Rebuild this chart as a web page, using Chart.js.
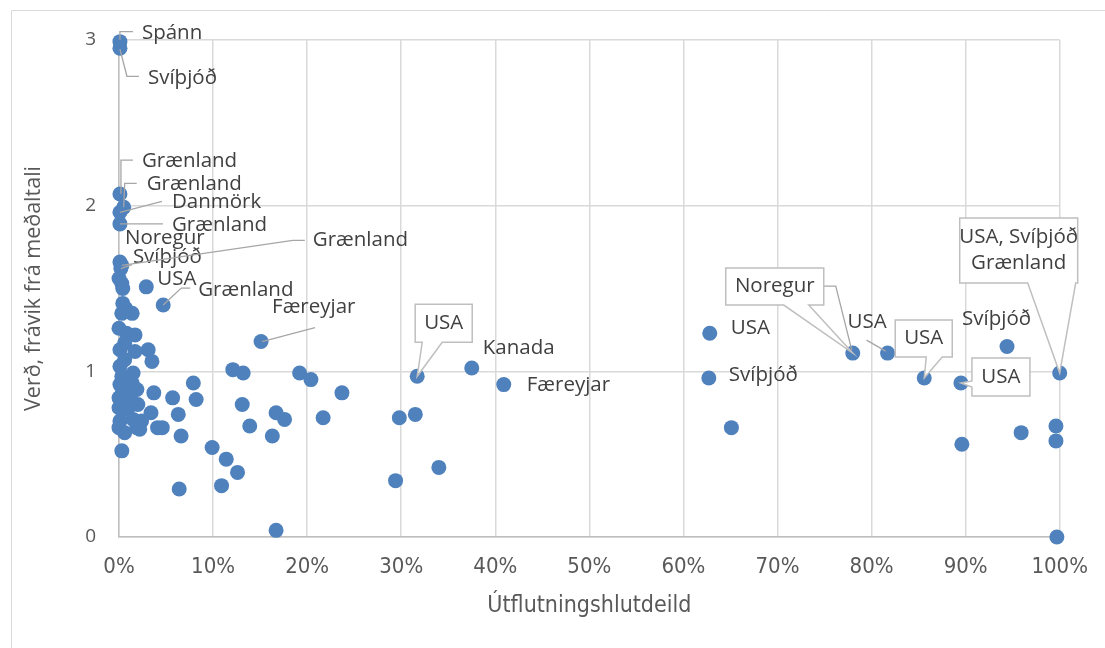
<!DOCTYPE html>
<html>
<head>
<meta charset="utf-8">
<script src="https://cdn.jsdelivr.net/npm/chart.js@4/dist/chart.umd.min.js"></script>
<style>
  body { margin: 0; background: #fff; }
  canvas { display: block; }
</style>
</head>
<body>
<canvas id="scatterChart" width="1105" height="648"></canvas>
<script>
// labelled points: export share (fraction), price deviation from average, country
var labelledShare = [0.001, 0.001, 0.001, 0.005, 0.001, 0.001, 0.001, 0.002, 0.003, 0.029, 0.047, 0.151,
    0.317, 0.375, 0.409, 0.628, 0.627, 0.780, 0.817, 0.856, 0.895, 0.944, 1.0];
var labelledPrice = [2.99, 2.95, 2.07, 1.99, 1.96, 1.89, 1.66, 1.62, 1.64, 1.51, 1.40, 1.18,
    0.97, 1.02, 0.92, 1.23, 0.96, 1.11, 1.11, 0.96, 0.93, 1.15, 0.99];
var labelledNames = ["Spánn", "Svíþjóð", "Grænland", "Grænland", "Danmörk", "Grænland", "Noregur", "Svíþjóð",
    "Grænland", "USA", "Grænland", "Færeyjar", "USA", "Kanada", "Færeyjar", "USA", "Svíþjóð", "Noregur",
    "USA", "USA", "USA", "Svíþjóð", "USA, Svíþjóð\nGrænland"];

// points without a label
var otherShare = [0.031, 0.035, 0.121, 0.132, 0.192, 0.204, 0.079, 0.037, 0.057, 0.082, 0.237, 0.131,
    0.034, 0.063, 0.167, 0.176, 0.217, 0.298, 0.315, 0.139, 0.041, 0.046, 0.066, 0.163, 0.099, 0.114,
    0.126, 0.294, 0.340, 0.064, 0.109, 0.167, 0.003, 0.019, 0.024, 0.651, 0.896, 0.959, 0.996, 0.996,
    0.997, 0.0, 0.003, 0.004, 0.004, 0.007, 0.014, 0.003, 0.0, 0.008, 0.017, 0.006, 0.001, 0.017,
    0.001, 0.015, 0.003, 0.001, 0.014, 0.019, 0.0, 0.010, 0.020, 0.0, 0.001, 0.0, 0.006, 0.006,
    0.012, 0.009, 0.015, 0.004, 0.022];
var otherPrice = [1.13, 1.06, 1.01, 0.99, 0.99, 0.95, 0.93, 0.87, 0.84, 0.83, 0.87, 0.80,
    0.75, 0.74, 0.75, 0.71, 0.72, 0.72, 0.74, 0.67, 0.66, 0.66, 0.61, 0.61, 0.54, 0.47,
    0.39, 0.34, 0.42, 0.29, 0.31, 0.04, 0.52, 0.66, 0.70, 0.66, 0.56, 0.63, 0.67, 0.58,
    0.0, 1.56, 1.53, 1.50, 1.41, 1.38, 1.35, 1.35, 1.26, 1.23, 1.22, 1.17, 1.13, 1.12,
    1.03, 0.99, 0.97, 0.92, 0.93, 0.89, 0.84, 0.84, 0.80, 0.78, 0.70, 0.66, 0.63, 1.07,
    0.86, 0.77, 0.71, 0.88, 0.65];

var xTicks = [0, 0.1, 0.2, 0.3, 0.4, 0.5, 0.6, 0.7, 0.8, 0.9, 1.0];
var yTicks = [0, 1, 2, 3];

// label placement, pixels relative to the point (same order as labelledNames)
var labelLayout = [
    { dx: 22, dy: -9, leader: [[0, -2], [0, -10], [13, -10]] },
    { dx: 28, dy: 30, leader: [[0, 1], [7, 28], [19, 28]] },
    { dx: 22, dy: -33, leader: [[1, 0], [1, -34], [13, -34]] },
    { dx: 23, dy: -23, leader: [[0, 0], [1, -24], [13, -24]] },
    { dx: 52, dy: -10, leader: [[0, 0], [42, -11]] },
    { dx: 52, dy: 1, leader: [[0, 0], [43, 0]] },
    { dx: 5, dy: -24 },
    { dx: 12, dy: -11, leader: [[0, 0], [11, -4]] },
    { dx: 191, dy: -25, leader: [[0, 0], [171, -25], [183, -25]] },
    { dx: 11, dy: -8 },
    { dx: 35, dy: -15, leader: [[0, 0], [18, -17], [27, -17]] },
    { dx: 11, dy: -34, leader: [[1, 0], [54, -14]] },
    { box: [-2, -72, 55, -34], tail: "bottom", base: [5, 25] },
    { dx: 11, dy: -20 },
    { dx: 23, dy: 1 },
    { dx: 21, dy: -5 },
    { dx: 20, dy: -3 },
    { box: [-127, -85, -29, -48], tail: "bottom", base: [-69, -44], leader: [[-29, -67], [-17, -67], [-1, -3]] },
    { dx: -40, dy: -31, leader: [[-2, -2], [-21, -13]] },
    { box: [-29, -58, 28, -21], tail: "bottom", base: [2, 18] },
    { box: [11, -25, 69, 13], tail: "left", base: [-2, 4] },
    { dx: -45, dy: -27 },
    { box: [-100, -155, 18, -90], tail: "bottom", base: [-32, 16], leader: [[-19, -90], [0, -2]] }
];

var labelFont = "20.5px 'Open Sans', sans-serif";
var narrowFont = "'Liberation Sans Narrow', 'DejaVu Sans Condensed', sans-serif";

var calloutPlugin = {
    id: "callouts",
    beforeDraw: function (chart) {
        var ctx = chart.ctx;
        ctx.save();
        ctx.strokeStyle = "#d9d9d9";
        ctx.lineWidth = 1;
        ctx.beginPath();
        ctx.moveTo(11.5, 648);
        ctx.lineTo(11.5, 10.5);
        ctx.lineTo(1105, 10.5);
        ctx.stroke();
        ctx.restore();
    },
    afterDatasetsDraw: function (chart) {
        var ctx = chart.ctx;
        var meta = chart.getDatasetMeta(0);
        ctx.save();
        ctx.font = labelFont;
        ctx.textBaseline = "middle";
        labelledNames.forEach(function (name, i) {
            var px = meta.data[i].x, py = meta.data[i].y;
            var lay = labelLayout[i];
            ctx.lineWidth = 1.3;
            ctx.strokeStyle = "#a6a6a6";
            if (lay.leader) {
                ctx.beginPath();
                lay.leader.forEach(function (p, k) {
                    if (k === 0) ctx.moveTo(px + p[0], py + p[1]);
                    else ctx.lineTo(px + p[0], py + p[1]);
                });
                ctx.stroke();
            }
            var lines = name.split("\n");
            if (lay.box) {
                var x0 = px + lay.box[0], y0 = py + lay.box[1], x1 = px + lay.box[2], y1 = py + lay.box[3];
                ctx.beginPath();
                ctx.moveTo(x0, y0);
                ctx.lineTo(x1, y0);
                ctx.lineTo(x1, y1);
                if (lay.tail === "bottom") {
                    ctx.lineTo(px + lay.base[1], y1);
                    ctx.lineTo(px, py);
                    ctx.lineTo(px + lay.base[0], y1);
                    ctx.lineTo(x0, y1);
                } else {
                    ctx.lineTo(x0, y1);
                    ctx.lineTo(x0, py + lay.base[1]);
                    ctx.lineTo(px, py);
                    ctx.lineTo(x0, py + lay.base[0]);
                }
                ctx.closePath();
                ctx.fillStyle = "#ffffff";
                ctx.fill();
                ctx.strokeStyle = "#bfbfbf";
                ctx.lineWidth = 1.5;
                ctx.stroke();
                ctx.fillStyle = "#404040";
                ctx.textAlign = "center";
                var cx = (x0 + x1) / 2, h = 26;
                var cy = (y0 + y1) / 2 - (lines.length - 1) * h / 2;
                lines.forEach(function (t, k) { ctx.fillText(t, cx, cy + k * h); });
            } else {
                ctx.fillStyle = "#404040";
                ctx.textAlign = "left";
                ctx.fillText(lines[0], px + lay.dx, py + lay.dy);
            }
        });
        ctx.restore();
    }
};

var points = [];
labelledShare.forEach(function (x, i) { points.push({ x: x, y: labelledPrice[i] }); });
otherShare.forEach(function (x, i) { points.push({ x: x, y: otherPrice[i] }); });

var ctx = document.getElementById("scatterChart").getContext("2d");
new Chart(ctx, {
    type: "scatter",
    data: {
        datasets: [{
            data: points,
            backgroundColor: "#4f81bd",
            borderColor: "#4f81bd",
            borderWidth: 0,
            pointRadius: 7.5,
            clip: false
        }]
    },
    options: {
        responsive: false,
        animation: false,
        layout: { padding: { top: 40, right: 40, bottom: 0, left: 0 } },
        plugins: { legend: { display: false }, tooltip: { enabled: false } },
        scales: {
            x: {
                type: "linear",
                min: 0,
                max: 1,
                afterBuildTicks: function (scale) { scale.ticks = xTicks.map(function (v) { return { value: v }; }); },
                afterFit: function (scale) { scale.height = 111; },
                ticks: {
                    autoSkip: false,
                    maxRotation: 0,
                    padding: 17,
                    color: "#595959",
                    font: { family: narrowFont, size: 22 },
                    callback: function (v) { return Math.round(v * 100) + "%"; }
                },
                grid: { color: "#d9d9d9", lineWidth: 1.5, drawTicks: false },
                border: { color: "#bfbfbf", width: 1.5 },
                title: {
                    display: true,
                    text: "Útflutningshlutdeild",
                    color: "#595959",
                    font: { family: narrowFont, size: 23 },
                    padding: { top: 0, bottom: 28 }
                }
            },
            y: {
                min: 0,
                max: 3,
                afterBuildTicks: function (scale) { scale.ticks = yTicks.map(function (v) { return { value: v }; }); },
                afterFit: function (scale) { scale.width = 119; },
                ticks: {
                    padding: 23,
                    color: "#595959",
                    font: { family: "'Open Sans', sans-serif", size: 19 }
                },
                grid: { color: "#d9d9d9", lineWidth: 1.5, drawTicks: false },
                border: { color: "#bfbfbf", width: 1.5 },
                title: {
                    display: true,
                    text: "Verð, frávik frá meðaltali",
                    color: "#595959",
                    font: { family: "'Open Sans', sans-serif", size: 21.5 },
                    padding: { top: 21, bottom: 0 }
                }
            }
        }
    },
    plugins: [calloutPlugin]
});
</script>
</body>
</html>
